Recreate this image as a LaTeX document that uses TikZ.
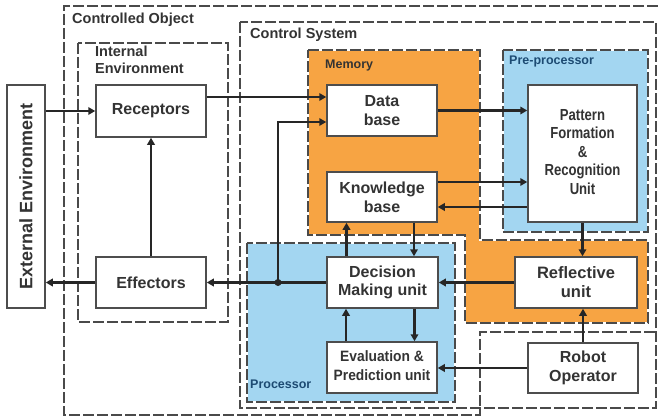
\documentclass[tikz,border=0pt]{standalone}
\usepackage{graphicx}
\usepackage{fontspec}
\setmainfont{Liberation Sans}
\usetikzlibrary{arrows.meta,calc}
\definecolor{memc}{HTML}{F7A443}
\definecolor{procc}{HTML}{A3D6F1}
\definecolor{dashc}{HTML}{4A4A4A}
\definecolor{boxc}{HTML}{4D4D4D}
\definecolor{txtc}{HTML}{333333}
\definecolor{arrc}{HTML}{262626}
\definecolor{navyc}{HTML}{1D4B73}
\begin{document}
\begin{tikzpicture}[x=1pt,y=-1pt,
 unitbox/.style={draw=boxc, line width=1.5pt, fill=white, text=txtc, font=\fontsize{16}{19}\selectfont\bfseries, align=center, inner sep=0pt},
 dashbox/.style={draw=dashc, line width=1.5pt, dash pattern=on 11pt off 3pt},
 whiteline/.style={draw=white, line width=1.5pt},
 arr/.style={draw=arrc, line width=2.8pt, -{Triangle[length=7pt,width=7.5pt]}},
 grouplabel/.style={font=\fontsize{14.5}{17}\selectfont\bfseries, text=txtc, inner sep=0pt, anchor=base west},
 smalllabel/.style={font=\fontsize{12.5}{15}\selectfont\bfseries, inner sep=0pt, anchor=base west},
]
\useasboundingbox (0,0) rectangle (658,417);
\fill[white] (0,0) rectangle (658,417);

% group regions
\draw[dashbox] (658,6) -- (64,6) -- (64,415) -- (480,415) -- (480,332) -- (658,332);
\draw[dashbox] (240,22) rectangle (656,408);
\draw[dashbox] (78,43) rectangle (228,322);

\fill[memc] (308,50) -- (480,50) -- (480,240) -- (648,240) -- (648,323) -- (465,323) -- (465,235) -- (308,235) -- cycle;
\draw[whiteline] (308,50) -- (480,50) -- (480,240) -- (648,240) -- (648,323) -- (465,323) -- (465,235) -- (308,235) -- cycle;
\draw[dashbox] (308,50) -- (480,50) -- (480,240) -- (648,240) -- (648,323) -- (465,323) -- (465,235) -- (308,235) -- cycle;

\fill[procc] (503,50) rectangle (648,232);
\draw[whiteline] (503,50) rectangle (648,232);
\draw[dashbox] (503,50) rectangle (648,232);

\fill[procc] (247,243) rectangle (455,402);
\draw[whiteline] (247,243) rectangle (455,402);
\draw[dashbox] (247,243) rectangle (455,402);

% group labels
\node[grouplabel] (lco) at (72,24) {Controlled Object};
\node[grouplabel] (lcs) at (250,39) {Control System};
\node[grouplabel, align=left, anchor=north west] (lie) at (95,46) {Internal\\Environment};
\node[smalllabel, text=txtc] (lmem) at (325,69) {Memory};
\node[smalllabel, text=navyc] (lpre) at (509,65) {Pre-processor};
\node[smalllabel, text=navyc] (lproc) at (250,388) {Processor};

% units
\node[unitbox, minimum width=38pt, minimum height=223pt] (ext) at (26,196.5)
  {\rotatebox{90}{\fontsize{18}{21}\selectfont\bfseries External Environment}};
\node[unitbox, minimum width=110pt, minimum height=52pt] (rec) at (151,111) {Receptors};
\node[unitbox, minimum width=110pt, minimum height=51pt] (eff) at (151,282.5) {Effectors};
\node[unitbox, minimum width=110pt, minimum height=51pt] (db) at (382,110.5) {Data\\base};
\node[unitbox, minimum width=110pt, minimum height=50pt] (kb) at (382,197) {Knowledge\\base};
\node[unitbox, minimum width=109pt, minimum height=137pt, font=\fontsize{16}{18.5}\selectfont\bfseries] (pat) at (582.5,153.5)
  {\scalebox{0.82}[1]{\begin{tabular}{@{}c@{}}Pattern\\Formation\\\&\\Recognition\\Unit\end{tabular}}};
\node[unitbox, minimum width=111pt, minimum height=51pt, font=\fontsize{16}{18.5}\selectfont\bfseries] (dm) at (382.5,282.5) {Decision\\Making unit};
\node[unitbox, minimum width=110pt, minimum height=51pt, font=\fontsize{15}{18.5}\selectfont\bfseries] (ev) at (382,367.5)
  {\scalebox{0.92}[1]{\begin{tabular}{@{}c@{}}Evaluation \&\\Prediction unit\end{tabular}}};
\node[unitbox, minimum width=122pt, minimum height=51pt, font=\fontsize{16.5}{19}\selectfont\bfseries] (ref) at (576,282.5) {Reflective\\unit};
\node[unitbox, minimum width=110pt, minimum height=50pt] (rob) at (583,368) {Robot\\Operator};

% connectors
\coordinate (j) at (278,282.5);
\draw[arr] (ext.east |- rec.west) -- (rec.west);
\draw[arr] ([yshift=14pt]rec.east) -- ([yshift=14pt]rec.east -| db.west);
\draw[arr] (eff.north) -- (rec.south);
\draw[arr] (eff.west) -- (eff.west -| ext.east);
\draw[arr] (dm.west) -- (eff.east);
\draw[arr] (j) |- ([yshift=-11.5pt]db.west);
\fill[arrc] (j) circle (3.5);
\draw[arr] (db.east) -- (db.east -| pat.west);
\draw[arr] ([yshift=15pt]kb.east) -- ([yshift=15pt]kb.east -| pat.west);
\draw[arr] ([yshift=-10pt]kb.east -| pat.west) -- ([yshift=-10pt]kb.east);
\draw[arr] ([xshift=-36pt]dm.north) -- ([xshift=-36pt]dm.north |- kb.south);
\draw[arr] ([xshift=32pt]kb.south) -- ([xshift=32pt]kb.south |- dm.north);
\draw[arr] (pat.south) -- (pat.south |- ref.north);
\draw[arr] (ref.west) -- (ref.west -| dm.east);
\draw[arr] (rob.north) -- (rob.north |- ref.south);
\draw[arr] (rob.west) -- (rob.west -| ev.east);
\draw[arr] ([xshift=-36pt]ev.north) -- ([xshift=-36pt]ev.north |- dm.south);
\draw[arr] ([xshift=32pt]dm.south) -- ([xshift=32pt]dm.south |- ev.north);
\end{tikzpicture}
\end{document}
